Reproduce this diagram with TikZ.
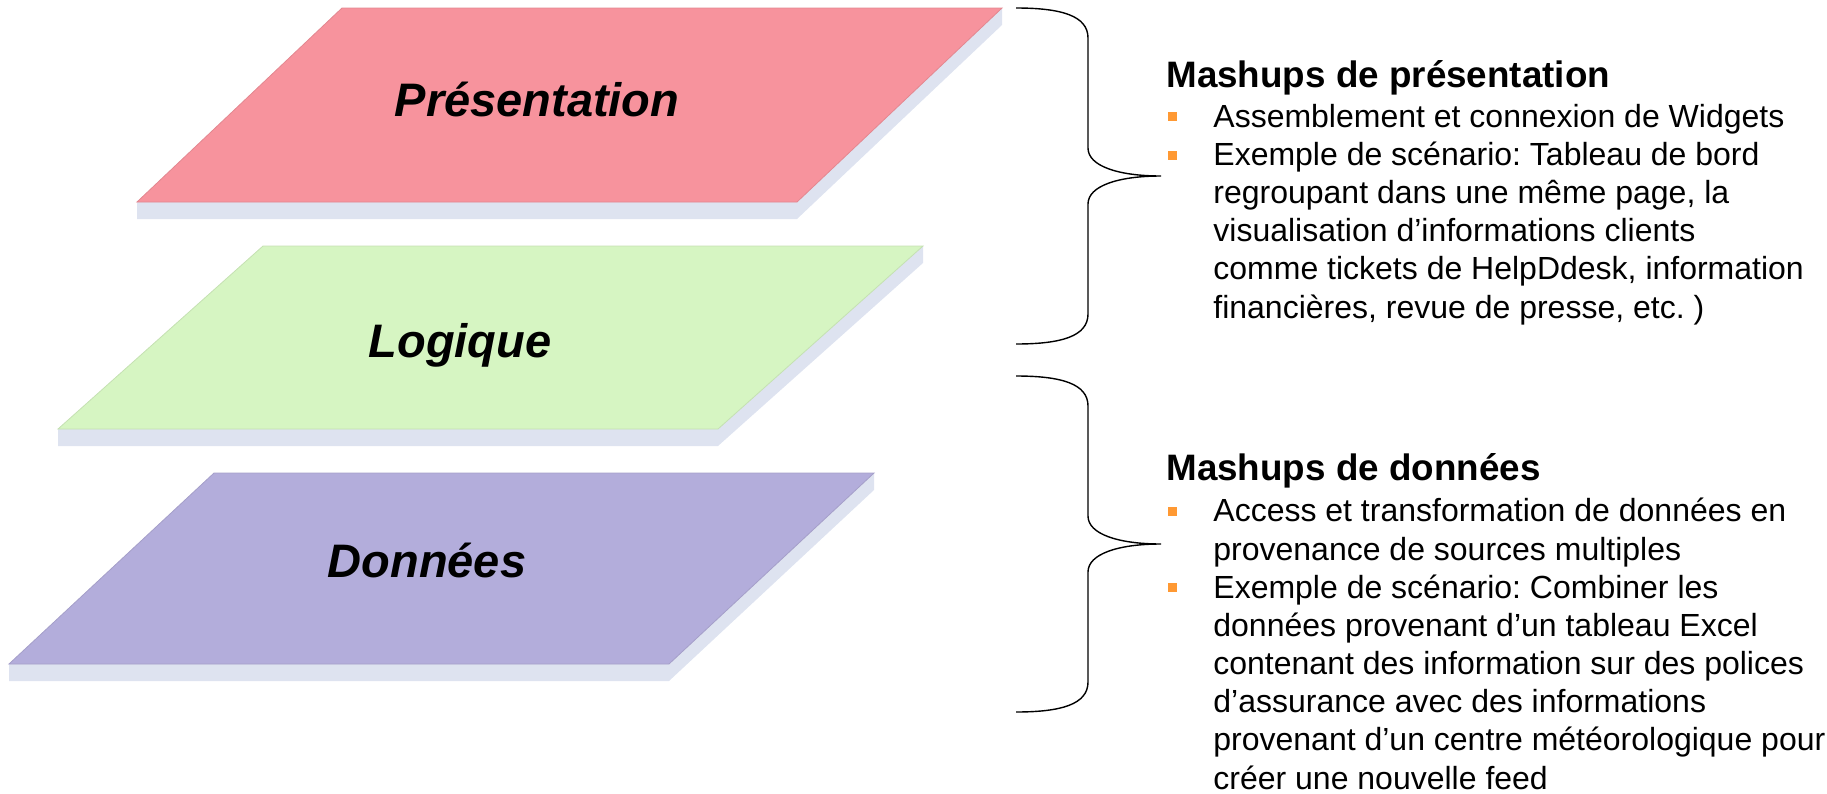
\documentclass[tikz,border=0pt]{standalone}
\usepackage{fontspec}
\setmainfont{Liberation Sans}
\usepackage{tikz}
\usetikzlibrary{positioning}
\frenchspacing
\definecolor{prescol}{RGB}{247,147,157}
\definecolor{logcol}{RGB}{214,245,194}
\definecolor{datcol}{RGB}{179,173,219}
\definecolor{slabcol}{RGB}{222,227,240}
\definecolor{bulletcol}{RGB}{255,153,51}
\tikzset{layerlabel/.style = {anchor=base, inner sep=0,
                              font=\fontsize{23.5}{28}\selectfont\bfseries\itshape}}
\tikzset{heading/.style = {anchor=base west, inner sep=0,
                           font=\fontsize{18.4}{22}\selectfont\bfseries}}
\tikzset{item/.style = {anchor=base west, inner sep=0, align=left,
                        font=\fontsize{16}{19.1}\selectfont}}
\tikzset{bullet/.style = {fill=bulletcol, inner sep=0, minimum size=4.5pt}}

\begin{document}
\begin{tikzpicture}[x=0.5pt, y=-0.5pt]
    \useasboundingbox (0,0) rectangle (1827,793);

    % the three layers, bottom-left corner / height / colour
    \foreach \bx/\by/\h/\col in {137/202/194/prescol, 58/429/183/logcol, 9/664/191/datcol} {
      \fill [slabcol] (\bx,\by) -- (\bx,\by+17) -- (\bx+660,\by+17)
        -- (\bx+865,\by-\h+17) -- (\bx+865,\by-\h) -- cycle;
      \filldraw [fill=\col, draw=\col!92!black, line width=0.4pt]
        (\bx,\by) -- (\bx+205,\by-\h) -- (\bx+865,\by-\h) -- (\bx+660,\by) -- cycle;
    }
    \node [layerlabel] (pres) at (537,116) {Présentation};
    \node [layerlabel] (logic) at (460,357) {Logique};
    \node [layerlabel] (data) at (427,577) {Données};

    % braces
    \foreach \t/\m/\b in {8/176/344, 376/544/712}
      \draw [line width=0.7pt] (1016,\t) .. controls (1062,\t) and (1088,\t+8) .. (1088,\t+30)
        -- (1088,\m-28) .. controls (1088,\m-10) and (1118,\m) .. (1161,\m)
        .. controls (1118,\m) and (1088,\m+10) .. (1088,\m+28)
        -- (1088,\b-30) .. controls (1088,\b-8) and (1062,\b) .. (1016,\b);

    % multi-line items sit on the baseline of their last line
    \node [heading] (mpres) at (1166,87) {Mashups de présentation};
    \node [bullet] (bp1) at (1172,116) {};
    \node [item] (p1) at (1213,127) {Assemblement et connexion de Widgets};
    \node [bullet] (bp2) at (1172,155) {};
    \node [item] (p2) at (1213,318) {Exemple de scénario: Tableau de bord\\
      regroupant dans une même page, la\\
      visualisation d’informations clients\\
      comme tickets de HelpDdesk, information\\
      financières, revue de presse, etc. )};

    \node [heading] (mdata) at (1166,480) {Mashups de données};
    \node [bullet] (bd1) at (1172,511) {};
    \node [item] (d1) at (1213,560) {Access et transformation de données en\\
      provenance de sources multiples};
    \node [bullet] (bd2) at (1172,587) {};
    \node [item] (d2) at (1213,789) {Exemple de scénario: Combiner les\\
      données provenant d’un tableau Excel\\
      contenant des information sur des polices\\
      d’assurance avec des informations\\
      provenant d’un centre météorologique pour\\
      créer une nouvelle feed};
\end{tikzpicture}
\end{document}
